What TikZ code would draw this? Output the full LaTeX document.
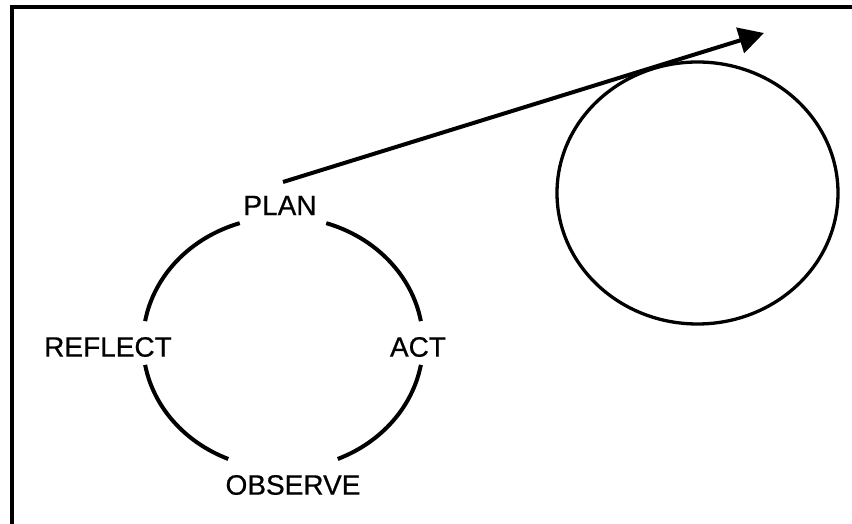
\documentclass[tikz,border=0pt]{standalone}
\usepackage{fontspec}
\setmainfont{Liberation Sans}
\newfontfamily\lblfont[FakeBold=0.6]{Liberation Sans}
\usetikzlibrary{arrows.meta}
\begin{document}
\begin{tikzpicture}[x=1pt,y=1pt,
  lbl/.style={inner sep=0pt, font=\lblfont\fontsize{28}{30}\selectfont},
  cyclearc/.style={line width=4pt},
  frameline/.style={line width=4pt, line join=miter}]
\useasboundingbox (0,0) rectangle (852,524);
\begin{scope}
\clip (0,0) rectangle (852,524);
\draw[frameline] (12,-10) -- (12,517) -- (870,517);
\end{scope}
% labels
\node[lbl] (plan) at (280,318.5) {PLAN};
\node[lbl] (act) at (418,177) {ACT};
\node[lbl] (reflect) at (108,177) {REFLECT};
\node[lbl] (observe) at (293,39) {OBSERVE};
% cycle arcs (ellipse centre 283,181; rx 140, ry 126)
\coordinate (cyc) at (283,181);
\draw[cyclearc] ([shift={(108:140 and 126)}]cyc) arc[start angle=108, end angle=170, x radius=140, y radius=126];
\draw[cyclearc] ([shift={(72:140 and 126)}]cyc) arc[start angle=72, end angle=10, x radius=140, y radius=126];
\draw[cyclearc] ([shift={(190:140 and 126)}]cyc) arc[start angle=190, end angle=247, x radius=140, y radius=126];
\draw[cyclearc] ([shift={(350:140 and 126)}]cyc) arc[start angle=350, end angle=293, x radius=140, y radius=126];
% big circle
\coordinate (bigc) at (697.5,331);
\draw[line width=3.3pt] (bigc) ellipse[x radius=140.5, y radius=131];
% arrow
\coordinate (astart) at (283,342);
\coordinate (aend) at (764,491);
\draw[line width=4pt, -{Triangle[length=25pt,width=26pt]}] (astart) -- (aend);
\end{tikzpicture}
\end{document}
